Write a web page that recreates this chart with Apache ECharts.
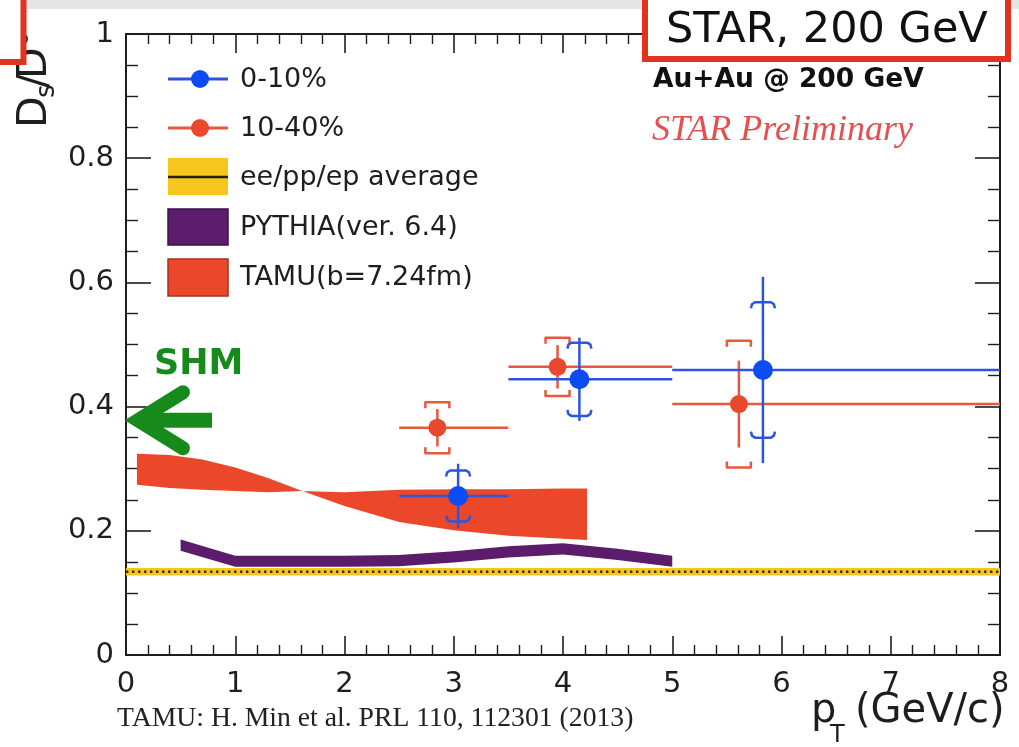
<!DOCTYPE html>
<html>
<head>
<meta charset="utf-8">
<script src="https://cdn.jsdelivr.net/npm/echarts@6/dist/echarts.min.js"></script>
<style>
  html, body { margin: 0; padding: 0; background: #ffffff; }
  #chart { width: 1019px; height: 747px; }
</style>
</head>
<body>
<div id="chart"></div>
<script>
// ---- Ds/D0 ratio in Au+Au collisions at 200 GeV ----

// axis tick labels
const xTickLabels = ['0', '1', '2', '3', '4', '5', '6', '7', '8'];
const yTickLabels = ['0', '0.2', '0.4', '0.6', '0.8', '1'];

// pT bins (GeV/c)
const binLow  = [2.5, 3.5, 5.0];
const binHigh = [3.5, 5.0, 8.0];

// 0-10% centrality
const centralX    = [3.04, 4.15, 5.83];
const centralY    = [0.256, 0.444, 0.459];
const centralStat = [0.052, 0.067, 0.150];
const centralSys  = [0.041, 0.059, 0.109];

// 10-40% centrality
const midX    = [2.85, 3.95, 5.61];
const midY    = [0.366, 0.464, 0.404];
const midStat = [0.030, 0.035, 0.070];
const midSys  = [0.041, 0.047, 0.102];

// ee/pp/ep average and its uncertainty
const eeAvg = 0.134;
const eeErr = 0.006;

// PYTHIA 6.4 band
const pythiaX    = [0.5, 1.0, 1.5, 2.0, 2.5, 3.0, 3.5, 4.0, 4.5, 5.0];
const pythiaLow  = [0.168, 0.142, 0.142, 0.142, 0.143, 0.149, 0.157, 0.162, 0.153, 0.142];
const pythiaHigh = [0.186, 0.160, 0.160, 0.160, 0.161, 0.167, 0.175, 0.180, 0.171, 0.160];

// TAMU model band (two edges, they cross near 1.6 GeV/c)
const tamuX     = [0.1, 0.4, 0.7, 1.0, 1.3, 1.6, 2.0, 2.5, 3.0, 3.5, 4.0, 4.22];
const tamuEdgeA = [0.324, 0.322, 0.315, 0.302, 0.285, 0.265, 0.240, 0.214, 0.201, 0.192, 0.187, 0.185];
const tamuEdgeB = [0.274, 0.269, 0.266, 0.264, 0.262, 0.264, 0.262, 0.266, 0.267, 0.267, 0.268, 0.268];

// SHM expectation
const shmValue = 0.378;

const SANS = 'DejaVu Sans';
const SERIF = 'Liberation Serif';
const INK = '#1e1e1e';
const BLUE = '#0b4cf4';
const BLUE_LINE = '#2d55dc';
const RED = '#e8482c';
const RED_LINE = '#e9583d';
const PURPLE = '#5b1c6c';
const TAMU = '#eb482b';
const YELLOW = '#f6c51e';
const GREEN = '#168a1b';

function errorBars(color, lineColor, radius, roundCaps) {
  return function (params, api) {
    const x = api.value(0), y = api.value(1);
    const c = api.coord([x, y]);
    const xl = api.coord([api.value(2), y])[0];
    const xh = api.coord([api.value(3), y])[0];
    const sT = api.coord([x, y + api.value(4)])[1];
    const sB = api.coord([x, y - api.value(4)])[1];
    const yT = api.coord([x, y + api.value(5)])[1];
    const yB = api.coord([x, y - api.value(5)])[1];
    const w = 12, h = 6;
    const cap = (yy, dir) => roundCaps
      ? [[c[0] - w, yy + dir * h], [c[0] - w + 1, yy + dir * 2], [c[0] - w + 4, yy], [c[0] + w - 4, yy], [c[0] + w - 1, yy + dir * 2], [c[0] + w, yy + dir * h]]
      : [[c[0] - w, yy + dir * h], [c[0] - w, yy], [c[0] + w, yy], [c[0] + w, yy + dir * h]];
    const lineStyle = { stroke: lineColor, lineWidth: 2.5, fill: null };
    return {
      type: 'group',
      children: [
        { type: 'line', shape: { x1: xl, y1: c[1], x2: xh, y2: c[1] }, style: lineStyle },
        { type: 'line', shape: { x1: c[0], y1: sT, x2: c[0], y2: sB }, style: lineStyle },
        { type: 'polyline', shape: { points: cap(yT, 1) }, style: { stroke: lineColor, lineWidth: 2.5, fill: null, lineJoin: 'round' } },
        { type: 'polyline', shape: { points: cap(yB, -1) }, style: { stroke: lineColor, lineWidth: 2.5, fill: null, lineJoin: 'round' } },
        { type: 'circle', shape: { cx: c[0], cy: c[1], r: radius }, style: { fill: color } }
      ]
    };
  };
}

const centralData = centralX.map((x, i) => [x, centralY[i], binLow[i], binHigh[i], centralStat[i], centralSys[i]]);
const midData = midX.map((x, i) => [x, midY[i], binLow[i], binHigh[i], midStat[i], midSys[i]]);

const chart = echarts.init(document.getElementById('chart'), null, { renderer: 'canvas' });

const axisCommon = {
  min: 0,
  axisLine: { show: true, onZero: false, lineStyle: { color: INK, width: 2 } },
  splitLine: { show: false },
  minorSplitLine: { show: false }
};

const option = {
  animation: false,
  backgroundColor: '#ffffff',
  grid: { left: 126, right: 19, top: 34, bottom: 92, containLabel: false },
  xAxis: [
    Object.assign({}, axisCommon, {
      type: 'value', position: 'bottom', max: 8, interval: 1,
      axisTick: { show: true, inside: true, length: 19, lineStyle: { color: INK, width: 1.6 } },
      minorTick: { show: true, splitNumber: 5, length: 10, lineStyle: { color: INK, width: 1.4 } },
      axisLabel: {
        show: true, margin: 15, color: INK, fontFamily: SANS, fontSize: 29,
        formatter: v => xTickLabels[Math.round(v)]
      }
    }),
    Object.assign({}, axisCommon, {
      type: 'value', position: 'top', max: 8, interval: 1,
      axisTick: { show: true, inside: true, length: 19, lineStyle: { color: INK, width: 1.6 } },
      minorTick: { show: true, splitNumber: 5, length: 10, lineStyle: { color: INK, width: 1.4 } },
      axisLabel: { show: false }
    })
  ],
  yAxis: [
    Object.assign({}, axisCommon, {
      type: 'value', position: 'left', max: 1, interval: 0.2,
      axisTick: { show: true, inside: true, length: 25, lineStyle: { color: INK, width: 1.6 } },
      minorTick: { show: true, splitNumber: 4, length: 12, lineStyle: { color: INK, width: 1.4 } },
      axisLabel: {
        show: true, margin: 12, color: INK, fontFamily: SANS, fontSize: 29,
        formatter: v => yTickLabels[Math.round(v / 0.2)]
      }
    }),
    Object.assign({}, axisCommon, {
      type: 'value', position: 'right', max: 1, interval: 0.2,
      axisTick: { show: true, inside: true, length: 25, lineStyle: { color: INK, width: 1.6 } },
      minorTick: { show: true, splitNumber: 4, length: 12, lineStyle: { color: INK, width: 1.4 } },
      axisLabel: { show: false }
    })
  ],
  series: [
    {
      // ee/pp/ep average band
      type: 'custom', name: 'ee/pp/ep average', z: 2,
      data: [[0, eeAvg]],
      renderItem: (params, api) => {
        const a = api.coord([0, eeAvg + eeErr]);
        const b = api.coord([8, eeAvg - eeErr]);
        const c0 = api.coord([0, eeAvg]);
        const c1 = api.coord([8, eeAvg]);
        return {
          type: 'group',
          children: [
            { type: 'rect', shape: { x: a[0], y: a[1], width: b[0] - a[0], height: b[1] - a[1] }, style: { fill: YELLOW } },
            { type: 'line', shape: { x1: c0[0], y1: c0[1], x2: c1[0], y2: c1[1] }, style: { stroke: '#3b3000', lineWidth: 2.4, lineDash: [2.4, 3.6] } }
          ]
        };
      }
    },
    {
      // PYTHIA band
      type: 'custom', name: 'PYTHIA(ver. 6.4)', z: 3,
      data: [[pythiaX[0], pythiaLow[0]]],
      renderItem: (params, api) => {
        const pts = [];
        pythiaX.forEach((x, i) => pts.push(api.coord([x, pythiaHigh[i]])));
        for (let i = pythiaX.length - 1; i >= 0; i--) pts.push(api.coord([pythiaX[i], pythiaLow[i]]));
        return { type: 'polygon', shape: { points: pts }, style: { fill: PURPLE } };
      }
    },
    {
      // TAMU band
      type: 'custom', name: 'TAMU(b=7.24fm)', z: 3,
      data: [[tamuX[0], tamuEdgeA[0]]],
      renderItem: (params, api) => {
        const pts = [];
        tamuX.forEach((x, i) => pts.push(api.coord([x, tamuEdgeA[i]])));
        for (let i = tamuX.length - 1; i >= 0; i--) pts.push(api.coord([tamuX[i], tamuEdgeB[i]]));
        return { type: 'polygon', shape: { points: pts }, style: { fill: TAMU } };
      }
    },
    {
      // SHM arrow and label
      type: 'custom', name: 'SHM', z: 5,
      data: [[0, shmValue]],
      renderItem: (params, api) => {
        const tip = api.coord([api.value(0), api.value(1)]);
        const vx = tip[0] + 12, vy = tip[1];
        return {
          type: 'group',
          children: [
            { type: 'line', shape: { x1: vx, y1: vy, x2: tip[0] + 86, y2: vy }, style: { stroke: GREEN, lineWidth: 15, lineCap: 'butt' } },
            { type: 'polyline', shape: { points: [[tip[0] + 57, vy - 28], [vx, vy], [tip[0] + 57, vy + 28]] }, style: { stroke: GREEN, lineWidth: 14, fill: null, lineCap: 'round', lineJoin: 'miter', miterLimit: 10 } },
            { type: 'text', x: tip[0] + 28, y: vy - 55, style: { text: 'SHM', fill: GREEN, font: 'bold 35px "' + SANS + '"', align: 'left', verticalAlign: 'middle' } }
          ]
        };
      }
    },
    {
      type: 'custom', name: '10-40%', z: 6,
      data: midData,
      encode: { x: 0, y: 1 },
      renderItem: errorBars(RED, RED_LINE, 9, false)
    },
    {
      type: 'custom', name: '0-10%', z: 7,
      data: centralData,
      encode: { x: 0, y: 1 },
      renderItem: errorBars(BLUE, BLUE_LINE, 10, true)
    }
  ],
  graphic: [
    // thin grey strip at top
    { type: 'rect', z: 90, shape: { x: 0, y: 0, width: 1019, height: 9 }, style: { fill: '#e6e6e6' } },
    // y-axis title Ds/D0
    {
      type: 'group', x: 33, y: 128, rotation: Math.PI / 2, z: 80,
      children: [
        { type: 'text', x: 0, y: 2, style: { text: 'D', font: '41px "' + SANS + '"', fill: INK, verticalAlign: 'middle' } },
        { type: 'text', x: 30, y: 14, style: { text: 's', font: '26px "' + SANS + '"', fill: INK, verticalAlign: 'middle' } },
        { type: 'text', x: 40, y: 2, style: { text: '/', font: '41px "' + SANS + '"', fill: INK, verticalAlign: 'middle' } },
        { type: 'text', x: 49, y: 2, style: { text: 'D', font: '41px "' + SANS + '"', fill: INK, verticalAlign: 'middle' } },
        { type: 'text', x: 81, y: -12, style: { text: '0', font: '26px "' + SANS + '"', fill: INK, verticalAlign: 'middle' } }
      ]
    },
    // red framed boxes
    { type: 'rect', z: 100, shape: { x: -10, y: -10, width: 33.5, height: 72 }, style: { fill: '#ffffff', stroke: '#e2331c', lineWidth: 6 } },
    { type: 'rect', z: 100, shape: { x: 645, y: -10, width: 363, height: 69 }, style: { fill: '#ffffff', stroke: '#e2331c', lineWidth: 6 } },
    { type: 'text', z: 101, x: 666, y: 31, style: { text: 'STAR, 200 GeV', font: '43px "' + SANS + '"', fill: '#111', verticalAlign: 'middle' } },
    // labels inside the frame
    { type: 'text', z: 60, x: 653, y: 80, style: { text: 'Au+Au @ 200 GeV', font: 'bold 26.5px "' + SANS + '"', fill: '#111', verticalAlign: 'middle' } },
    { type: 'text', z: 60, x: 652, y: 131, style: { text: 'STAR Preliminary', font: 'italic 36px "' + SERIF + '"', fill: '#e2504f', verticalAlign: 'middle' } },
    // legend
    { type: 'line', z: 60, shape: { x1: 168, y1: 79, x2: 228, y2: 79 }, style: { stroke: BLUE_LINE, lineWidth: 3 } },
    { type: 'circle', z: 61, shape: { cx: 200, cy: 79, r: 9 }, style: { fill: BLUE } },
    { type: 'text', z: 60, x: 240, y: 80, style: { text: '0-10%', font: '27px "' + SANS + '"', fill: INK, verticalAlign: 'middle' } },
    { type: 'line', z: 60, shape: { x1: 168, y1: 128, x2: 228, y2: 128 }, style: { stroke: RED_LINE, lineWidth: 3 } },
    { type: 'circle', z: 61, shape: { cx: 200, cy: 128, r: 9 }, style: { fill: RED } },
    { type: 'text', z: 60, x: 240, y: 129, style: { text: '10-40%', font: '27px "' + SANS + '"', fill: INK, verticalAlign: 'middle' } },
    { type: 'rect', z: 60, shape: { x: 168, y: 158, width: 60, height: 37 }, style: { fill: YELLOW } },
    { type: 'line', z: 61, shape: { x1: 168, y1: 177, x2: 228, y2: 177 }, style: { stroke: '#2a2000', lineWidth: 2.5 } },
    { type: 'text', z: 60, x: 240, y: 178, style: { text: 'ee/pp/ep average', font: '27px "' + SANS + '"', fill: INK, verticalAlign: 'middle' } },
    { type: 'rect', z: 60, shape: { x: 168, y: 209, width: 60, height: 36 }, style: { fill: PURPLE, stroke: '#3e1049', lineWidth: 1.5 } },
    { type: 'text', z: 60, x: 240, y: 228, style: { text: 'PYTHIA(ver. 6.4)', font: '27px "' + SANS + '"', fill: INK, verticalAlign: 'middle' } },
    { type: 'rect', z: 60, shape: { x: 168, y: 259, width: 60, height: 37 }, style: { fill: TAMU, stroke: '#a8301c', lineWidth: 1.5 } },
    { type: 'text', z: 60, x: 240, y: 278, style: { text: 'TAMU(b=7.24fm)', font: '27px "' + SANS + '"', fill: INK, verticalAlign: 'middle' } },
    // x-axis title pT (GeV/c)
    { type: 'text', z: 60, x: 811, y: 712, style: { text: 'p', font: '40px "' + SANS + '"', fill: INK, verticalAlign: 'middle' } },
    { type: 'text', z: 60, x: 830, y: 736, style: { text: 'T', font: '24px "' + SANS + '"', fill: INK, verticalAlign: 'middle' } },
    { type: 'text', z: 60, x: 855, y: 712, style: { text: '(GeV/c)', font: '40px "' + SANS + '"', fill: INK, verticalAlign: 'middle' } },
    // reference
    { type: 'text', z: 60, x: 117, y: 719, style: { text: 'TAMU: H. Min et al. PRL 110, 112301 (2013)', font: '27.7px "' + SERIF + '"', fill: '#222', verticalAlign: 'middle' } }
  ]
};

chart.setOption(option);
</script>
</body>
</html>
